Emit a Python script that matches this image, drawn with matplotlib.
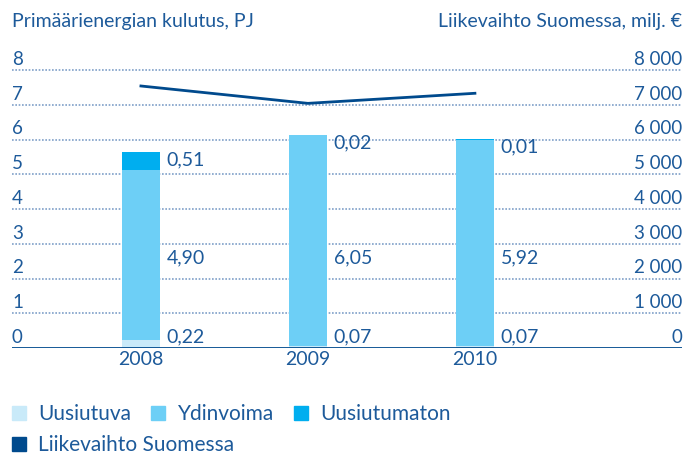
# Primäärienergian kulutus + liikevaihto Suomessa
import matplotlib.pyplot as plt
from matplotlib.patches import Patch

years = ['2008', '2009', '2010']
uusiutuva = [0.22, 0.07, 0.07]
ydinvoima = [4.90, 6.05, 5.92]
uusiutumaton = [0.51, 0.02, 0.01]
liikevaihto = [7540, 7040, 7330]
left_ticks = [0, 1, 2, 3, 4, 5, 6, 7, 8]
right_ticks = ['0', '1 000', '2 000', '3 000', '4 000', '5 000', '6 000', '7 000', '8 000']

c_uus = '#c9eaf9'
c_ydin = '#6dcff6'
c_uusm = '#00aeef'
c_line = '#004a8d'
c_text = '#1d5a9a'
c_grid = '#7f9fc8'

plt.rcParams['font.family'] = ['Lato', 'DejaVu Sans']

fig = plt.figure(figsize=(6.95, 4.55), dpi=100)
ax = fig.add_axes([12 / 695, 1 - 348 / 455, 670 / 695, 8.3 * 34.75 / 455])
ax.set_ylim(0, 8.3)
ax.set_xlim(-0.772, 3.24)
for s in ax.spines.values():
    s.set_visible(False)
ax.axhline(0, color=c_line, lw=2, zorder=5)
for v in left_ticks[1:]:
    ax.axhline(v, color=c_grid, lw=1.2, ls=(0, (1, 1)), zorder=0)

x = range(len(years))
w = 0.228
ax.bar(x, uusiutuva, w, color=c_uus, zorder=2)
ax.bar(x, ydinvoima, w, bottom=uusiutuva, color=c_ydin, zorder=2)
tot = [a + b for a, b in zip(uusiutuva, ydinvoima)]
ax.bar(x, uusiutumaton, w, bottom=tot, color=c_uusm, zorder=2)

# arvot palkkien oikealle puolelle
for i in x:
    top = tot[i] + uusiutumaton[i]
    kw = dict(color=c_text, fontsize=14, ha='left', va='center')
    ax.text(i + w / 2 + 0.04, 0.32, f'{uusiutuva[i]:.2f}'.replace('.', ','), **kw)
    ax.text(i + w / 2 + 0.04, 2.6, f'{ydinvoima[i]:.2f}'.replace('.', ','), **kw)
    ax.text(i + w / 2 + 0.04, min(top - 0.22, 5.9), f'{uusiutumaton[i]:.2f}'.replace('.', ','), **kw)

ax.set_xticks(list(x))
ax.set_xticklabels(years, color=c_text, fontsize=14)
ax.tick_params(axis='x', length=0, pad=2)
ax.set_yticks([])

tr = ax.get_yaxis_transform()
for v, r in zip(left_ticks, right_ticks):
    ax.text(0, v + 0.15, str(v), transform=tr, color=c_text, fontsize=13.5, ha='left', va='baseline')
    ax.text(1, v + 0.15, r, transform=tr, color=c_text, fontsize=13.5, ha='right', va='baseline')

ax2 = ax.twinx()
ax2.set_ylim(0, 8300)
ax2.axis('off')
ax2.plot(list(x), liikevaihto, color=c_line, lw=2, zorder=6)

fig.text(12 / 695, 1 - 22 / 455, 'Primäärienergian kulutus, PJ', color=c_text, fontsize=14, va='center')
fig.text(682 / 695, 1 - 22 / 455, 'Liikevaihto Suomessa, milj. €', color=c_text, fontsize=14, va='center', ha='right')

legkw = dict(loc='center left', frameon=False, fontsize=15, handlelength=0.67, handleheight=0.67,
             handletextpad=0.58, columnspacing=0.98, borderpad=0, borderaxespad=0, labelcolor=c_text)
leg1 = fig.legend([Patch(color=c_uus), Patch(color=c_ydin), Patch(color=c_uusm)],
                  ['Uusiutuva', 'Ydinvoima', 'Uusiutumaton'], ncol=3,
                  bbox_to_anchor=(12 / 695, 1 - 414 / 455), **legkw)
leg2 = fig.legend([Patch(color=c_line)], ['Liikevaihto Suomessa'],
                  bbox_to_anchor=(12 / 695, 1 - 445 / 455), **legkw)

plt.savefig('out.png')
